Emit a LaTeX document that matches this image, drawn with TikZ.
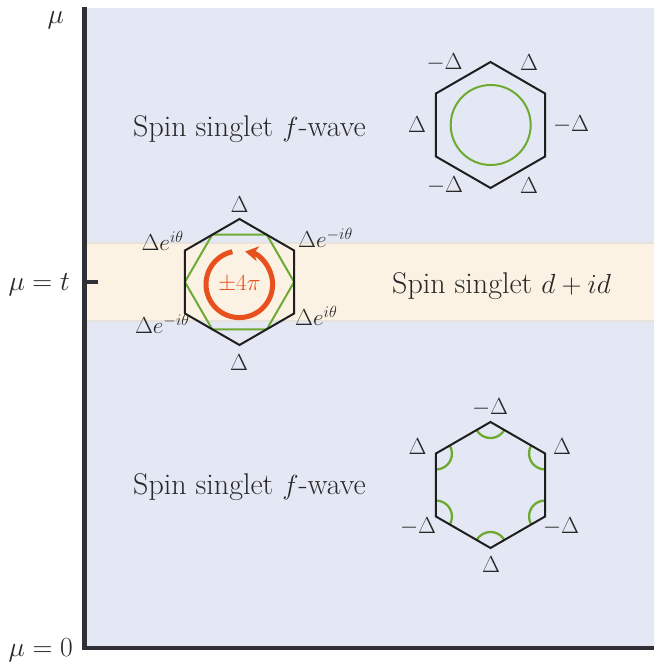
\documentclass[tikz,border=0pt]{standalone}
\usetikzlibrary{arrows.meta,calc}
\definecolor{bgblue}{RGB}{228,232,244}
\definecolor{bandfill}{RGB}{252,242,228}
\definecolor{bandedge}{RGB}{230,226,220}
\definecolor{axisc}{RGB}{48,48,54}
\definecolor{inkc}{RGB}{40,40,40}
\definecolor{hexc}{RGB}{30,30,30}
\definecolor{greenc}{RGB}{110,170,50}
\definecolor{orangec}{RGB}{232,80,30}
\tikzset{
  bigtext/.style={font=\fontsize{27}{32}\selectfont, text=inkc, inner sep=0pt, scale=1.11},
  lbl/.style={font=\fontsize{20}{24}\selectfont, text=inkc, inner sep=0pt, scale=1.12},
  hexline/.style={draw=hexc, line width=2pt, line join=miter},
  greenline/.style={draw=greenc, line width=2pt},
  axisline/.style={draw=axisc, line width=4.5pt},
}
\begin{document}
\begin{tikzpicture}[x=1pt,y=1pt]
\useasboundingbox (0,0) rectangle (654,665);
% backgrounds
\fill[bgblue] (85,17) rectangle (654,657);
\filldraw[fill=bandfill, draw=bandedge, line width=2.5pt] (86,344) rectangle (656,422);

% axis labels
\node[bigtext, anchor=base east] (mu) at (64,641) {$\mu$};
\node[bigtext, anchor=base east] (mut) at (70,374) {$\mu=t$};
\node[bigtext, anchor=base east] (mu0) at (73,9) {$\mu=0$};

% region texts
\node[bigtext, anchor=base west] (ftop) at (133,528) {Spin singlet $f$-wave};
\node[bigtext, anchor=base west] (fbot) at (133,170) {Spin singlet $f$-wave};
\node[bigtext, anchor=base west] (did) at (392,371) {Spin singlet $d+id$};

% ---- top hexagon (f-wave, circular Fermi surface)
\coordinate (T) at (490.5,540);
\foreach \k in {0,...,5}{
  \coordinate (T\k) at ($(T)+(90+60*\k:63)$);
}
\draw[hexline] (T0)--(T1)--(T2)--(T3)--(T4)--(T5)--cycle;
\draw[greenline] (490.7,540) circle[radius=40];
\node[lbl] (t1) at (444.5,602) {$-\Delta$};
\node[lbl] (t2) at (529,602) {$\Delta$};
\node[lbl] (t3) at (417,540) {$\Delta$};
\node[lbl] (t4) at (571,540) {$-\Delta$};
\node[lbl] (t5) at (445,479) {$-\Delta$};
\node[lbl] (t6) at (529,479) {$\Delta$};

% ---- middle hexagon (d+id)
\coordinate (M) at (239.5,383);
\foreach \k in {0,...,5}{
  \coordinate (M\k) at ($(M)+(90+60*\k:63)$);
  \coordinate (G\k) at ($(M)+(60*\k:54.6)$);
}
\draw[greenline] (G0)--(G1)--(G2)--(G3)--(G4)--(G5)--cycle;
\draw[hexline] (M0)--(M1)--(M2)--(M3)--(M4)--(M5)--cycle;
\coordinate (O) at (239.3,380.7);
\draw[draw=orangec, line width=5pt, -{Stealth[length=13pt,width=15pt,inset=4pt]}]
  ($(O)+(102:33.3)$) arc[start angle=102, end angle=440, radius=33.3];
\node[font=\fontsize{21}{24}\selectfont, text=orangec, inner sep=0pt, scale=1.12] (pm) at (O) {$\pm4\pi$};
\node[lbl] (m1) at (239.5,460) {$\Delta$};
\node[lbl] (m2) at (239,302.5) {$\Delta$};
\node[lbl, anchor=base east] (m3) at (184,414) {$\Delta e^{i\theta}$};
\node[lbl, anchor=base west] (m4) at (298,417) {$\Delta e^{-i\theta}$};
\node[lbl, anchor=base west] (m5) at (295,339) {$\Delta e^{i\theta}$};
\node[lbl, anchor=base east] (m6) at (190,331) {$\Delta e^{-i\theta}$};

% ---- bottom hexagon (f-wave, pockets at corners)
\coordinate (B) at (490.5,180);
\foreach \k in {0,...,5}{
  \coordinate (B\k) at ($(B)+(90+60*\k:63)$);
}
\foreach \k in {0,...,5}{
  \pgfmathsetmacro{\a}{90+60*\k}
  \draw[greenc, line width=2.3pt] ($(B\k)+(\a+120:16)$) arc[start angle=\a+120, end angle=\a+240, radius=16];
}
\draw[hexline] (B0)--(B1)--(B2)--(B3)--(B4)--(B5)--cycle;
\node[lbl] (b1) at (490,257) {$-\Delta$};
\node[lbl] (b2) at (417.5,218) {$\Delta$};
\node[lbl] (b3) at (562,218) {$\Delta$};
\node[lbl] (b4) at (418,138) {$-\Delta$};
\node[lbl] (b5) at (561,138) {$-\Delta$};
\node[lbl] (b6) at (491,100) {$\Delta$};

% ---- axes
\coordinate (ax0) at (84.5,14.75);
\coordinate (axtop) at (84.5,658);
\draw[axisline] (axtop) -- (ax0);
\coordinate (bx0) at (82.25,17);
\coordinate (bx1) at (654,17);
\draw[axisline] (bx0) -- (bx1);
\coordinate (tk0) at (86,383);
\coordinate (tk1) at (98,383);
\draw[draw=axisc, line width=4pt] (tk0) -- (tk1);
\end{tikzpicture}
\end{document}
